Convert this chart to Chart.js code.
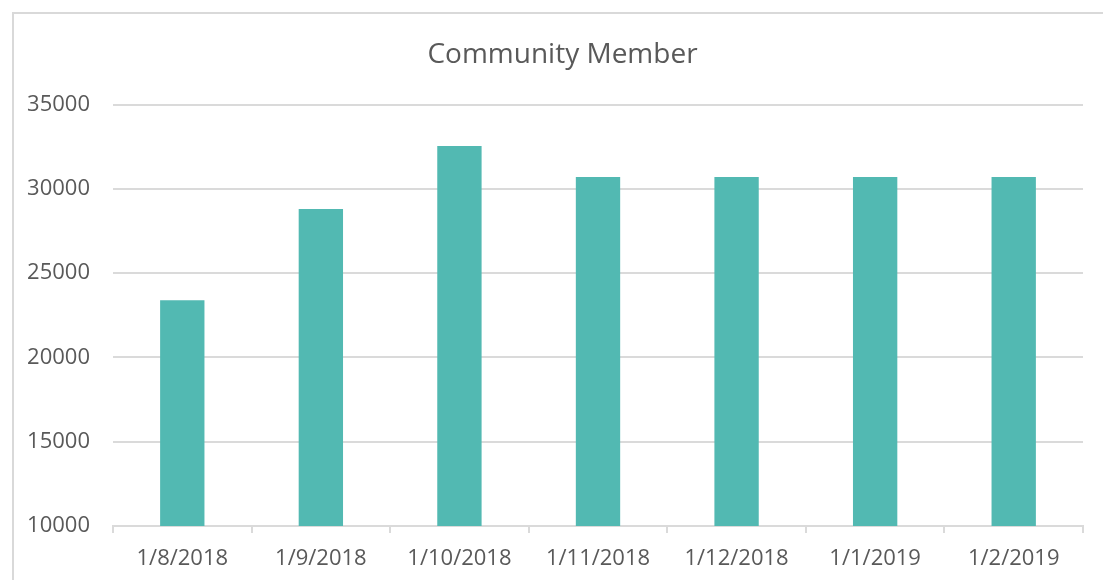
<!DOCTYPE html>
<html lang="en">
<head>
    <meta charset="UTF-8">
    <title>Community Member</title>
    <script src="https://cdn.jsdelivr.net/npm/chart.js"></script>
    <style>
        body { margin: 0; background: #ffffff; overflow: hidden; }
        .moldura {
            position: absolute; left: 12px; top: 12px;
            width: 1200px; height: 700px;
            border: 2px solid #d9d9d9;
        }
        .div-grafico { position: absolute; left: 0; top: 0; width: 1103px; height: 580px; }
    </style>
</head>
<body>
    <div class="moldura"></div>
    <div class="div-grafico">
        <canvas id="grafico"></canvas>
    </div>

<script>
  // Dados
  const meses = ['1/8/2018', '1/9/2018', '1/10/2018', '1/11/2018', '1/12/2018', '1/1/2019', '1/2/2019'];
  const membros = [23400, 28800, 32540, 30700, 30700, 30700, 30700];
  const ticksY = [10000, 15000, 20000, 25000, 30000, 35000];

  const cinza = '#dadada';
  const texto = '#595959';
  const fonte = "'Open Sans', sans-serif";

  // desloca o título para ficar centrado na moldura
  const moverTitulo = {
    id: 'moverTitulo',
    afterLayout(chart) {
      if (chart.titleBlock) {
        chart.titleBlock.left += 21;
        chart.titleBlock.right += 21;
      }
    }
  };

  new Chart(document.getElementById('grafico'), {
    type: 'bar',
    data: {
      labels: meses,
      datasets: [{
        label: 'Community Member',
        data: membros,
        backgroundColor: '#52b9b2',
        borderWidth: 0,
        categoryPercentage: 1,
        barPercentage: 0.32
      }]
    },
    options: {
      responsive: true,
      maintainAspectRatio: false,
      animation: false,
      layout: { padding: { top: 0, right: 20, bottom: 0, left: 0 } },
      scales: {
        x: {
          offset: true,
          afterFit: (escala) => { escala.height = 54; },
          grid: {
            offset: true,
            drawOnChartArea: false,
            drawTicks: true,
            tickLength: 7,
            color: cinza,
            lineWidth: 2
          },
          border: { color: cinza, width: 2 },
          ticks: { color: texto, padding: 13, maxRotation: 0, font: { family: fonte, size: 22 } }
        },
        y: {
          min: 10000,
          max: 35000,
          afterBuildTicks: (escala) => { escala.ticks = ticksY.map(v => ({ value: v })); },
          afterFit: (escala) => { escala.width = 113; },
          grid: { color: cinza, lineWidth: 2, drawTicks: false },
          border: { display: false },
          ticks: {
            color: texto,
            padding: 23,
            font: { family: fonte, size: 22 },
            callback: (v) => String(v)
          }
        }
      },
      plugins: {
        legend: { display: false },
        tooltip: { enabled: false },
        title: {
          display: true,
          text: 'Community Member',
          color: texto,
          font: { family: fonte, size: 28, weight: 'normal' },
          padding: { top: 38, bottom: 33 }
        }
      }
    },
    plugins: [moverTitulo]
  });
</script>
</body>
</html>
